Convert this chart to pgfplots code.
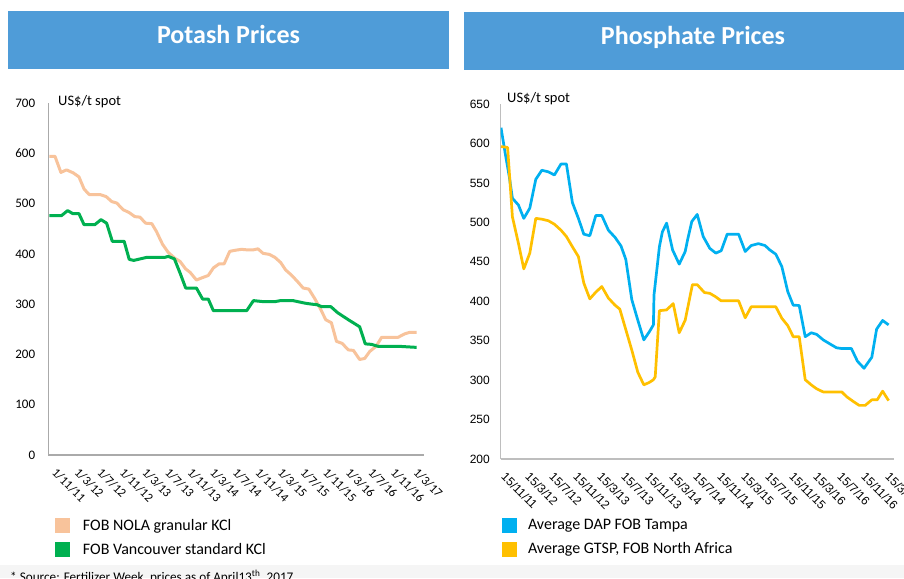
\documentclass[border=0pt]{standalone}
\usepackage{fontspec}
\setmainfont{Carlito}
\newfontfamily\arial{Liberation Sans}
\usepackage{pgfplots}
\pgfplotsset{compat=1.18}
\definecolor{banner}{RGB}{79,156,216}
\definecolor{nola}{RGB}{248,195,155}
\definecolor{vanc}{RGB}{0,176,80}
\definecolor{dap}{RGB}{0,176,240}
\definecolor{gtsp}{RGB}{255,192,0}
\definecolor{axgray}{RGB}{170,170,170}
\definecolor{axgrayb}{RGB}{190,190,190}
\begin{document}
\begin{tikzpicture}
\useasboundingbox (0pt,0pt) rectangle (904pt,578pt);
\fill[white] (0pt,0pt) rectangle (904pt,578pt);
\fill[black!4] (0pt,0pt) rectangle (904pt,13pt);
\node[anchor=base west, font=\fontsize{13.2}{13.2}\selectfont, inner sep=0pt] at (10pt,-3pt) {* Source: Fertilizer Week, prices as of April13\textsuperscript{th}, 2017};
\fill[banner] (8pt,509pt) rectangle (449pt,567pt);
\fill[banner] (464.3pt,508pt) rectangle (904pt,566pt);
\node[white, font=\fontsize{26}{26}\selectfont\bfseries, anchor=base, inner sep=0pt] at (228.5pt,534.7pt) {Potash Prices};
\node[white, font=\fontsize{26}{26}\selectfont\bfseries, anchor=base, inner sep=0pt] at (693pt,533.7pt) {Phosphate Prices};
\node[anchor=base west, font=\fontsize{14.5}{14.5}\selectfont, inner sep=0pt] at (58pt,472pt) {US\$/t spot};
\node[anchor=base west, font=\fontsize{14.5}{14.5}\selectfont, inner sep=0pt] at (507pt,475.4pt) {US\$/t spot};

\begin{axis}[at={(48.3pt,123pt)}, anchor=south west, scale only axis,
  width=375.7pt, height=352pt,
  xmin=-0.83, xmax=65.7, ymin=0, ymax=700,
  axis x line=bottom, axis y line=left,
  axis line style={axgray, line width=1.2pt, -},
  xtick={0,4,...,64},
  xticklabels={1/11/11,1/3/12,1/7/12,1/11/12,1/3/13,1/7/13,1/11/13,1/3/14,1/7/14,1/11/14,1/3/15,1/7/15,1/11/15,1/3/16,1/7/16,1/11/16,1/3/17},
  ytick={0,100,...,700},
  major tick length=0pt, tick style={draw=none},
  /pgf/number format/assume math mode=true,
  x tick label style={xshift=4.5pt, yshift=-12pt, rotate=-45, anchor=north west, inner sep=0pt, font=\fontsize{12.5}{12.5}\selectfont},
  y tick label style={anchor=east, inner sep=0pt, xshift=-13pt, font=\fontsize{13}{13}\selectfont},
  legend style={at={(0.0178,-0.179)}, anchor=north west, draw=none, fill=none, inner sep=0pt, outer sep=0pt,
    row sep=9pt, column sep=13pt,
    nodes={inner sep=0pt, text height=11.5pt, text depth=2.5pt, font=\fontsize{16}{16}\selectfont}},
  legend cell align=left,
  legend image code/.code={\path[#1, fill, draw=none] (0pt,-7.5pt) rectangle (15pt,7.5pt);},
]
\addplot[color=nola, line width=3pt, line join=round] coordinates {
(-0.65,594)(0.35,594)(1.4,562)(2.4,567)(3.6,561)(4.6,553)(5.5,529)(6.4,518)(8.3,518)(9.4,514)
(10.4,504)(11.3,501)(12.4,488)(13.5,482)(14.5,474)(15.4,473)(16.4,461)(17.5,460)(18.3,445)(19.4,419)
(20.4,403)(21.6,391)(22.5,385)(23.5,370)(24.3,363)(25.4,348)(26.3,352)(27.5,357)(28.4,372)(29.4,380)
(30.3,380)(31.3,405)(32.2,407)(33.4,409)(34.3,408)(35.5,408)(36.3,410)(37.2,401)(38.3,399)(39.3,393)
(40.3,383)(41.2,368)(42.2,358)(43.3,345)(44.3,332)(45.3,330)(46.3,312)(47.3,292)(48.3,269)(49.3,263)
(50.2,226)(51.2,222)(52.3,209)(53.2,208)(54.3,190)(55.2,192)(56.1,206)(57.2,216)(58.2,234)(59.1,234)
(61.1,234)(62.3,241)(63.2,244)(64.4,244)};
\addlegendentry{FOB NOLA granular KCl}
\addplot[color=vanc, line width=3pt, line join=round] coordinates {
(-0.65,476)(1.5,476)(2.6,486)(3.5,480)(4.6,480)(5.5,458)(7.4,458)(8.5,468)(9.5,461)(10.5,425)
(12.6,425)(13.5,389)(14.3,387)(16.6,393)(19.8,393)(20.4,395)(21.5,390)(22.5,362)(23.5,332)(25.4,332)
(26.5,310)(27.5,310)(28.4,287)(34.3,287)(35.5,307)(37.2,305)(39.3,305)(40.3,307)(42.5,307)(44.6,302)
(45.8,300)(46.7,299)(47.6,295)(49.2,295)(50.4,283)(52.3,269)(54.3,255)(55.3,221)(56.4,220)(57.6,216)
(61.4,216)(64.4,214)};
\addlegendentry{FOB Vancouver standard KCl}
\end{axis}

\begin{axis}[at={(500.7pt,119pt)}, anchor=south west, scale only axis,
  width=393.3pt, height=355pt,
  xmin=-0.05, xmax=65.5, ymin=200, ymax=650,
  axis x line=bottom, axis y line=left,
  axis line style={axgrayb, line width=1.2pt, -},
  xtick={0,4,...,64},
  xticklabels={15/11/11,15/3/12,15/7/12,15/11/12,15/3/13,15/7/13,15/11/13,15/3/14,15/7/14,15/11/14,15/3/15,15/7/15,15/11/15,15/3/16,15/7/16,15/11/16,15/3/17},
  ytick={200,250,...,650},
  major tick length=0pt, tick style={draw=none},
  /pgf/number format/assume math mode=true,
  x tick label style={xshift=5.7pt, yshift=-12.5pt, rotate=-45, anchor=north west, inner sep=0pt, font=\arial\fontsize{12}{12}\selectfont},
  y tick label style={anchor=east, inner sep=0pt, xshift=-10.7pt, font=\arial\fontsize{12}{12}\selectfont},
  legend style={at={(0.0033,-0.166)}, anchor=north west, draw=none, fill=none, inner sep=0pt, outer sep=0pt,
    row sep=9pt, column sep=11pt,
    nodes={inner sep=0pt, text height=11.5pt, text depth=2.5pt, font=\fontsize{16}{16}\selectfont}},
  legend cell align=left,
  legend image code/.code={\path[#1, fill, draw=none] (0pt,-7.5pt) rectangle (15pt,7.5pt);},
]
\addplot[color=dap, line width=2.7pt, line join=round] coordinates {
(0,620)(0.7,587.5)(1.4,557)(1.9,530.5)(2.9,522)(3.8,505)(4.8,518)(5.8,554.6)(6.8,566)(7.9,564)
(8.9,560)(10.0,574)(10.9,574)(11.9,525)(12.9,505)(13.8,485)(14.8,483)(15.8,508.6)(16.8,508.6)(17.9,490)
(19.0,481)(20.0,470)(20.8,453)(21.8,402)(22.8,376)(23.8,351)(24.7,361)(25.4,370)(25.5,408)(26.4,469)
(26.9,488)(27.6,499)(28.6,465)(29.7,447)(30.7,463)(31.1,478)(31.8,501)(32.7,510)(33.7,482)(34.8,467)
(35.8,461)(36.7,464)(37.7,485)(39.6,485)(40.7,463)(41.7,470.6)(42.9,473)(44,470.6)(44.8,465)(45.8,459.6)
(46.8,444)(47.8,412)(48.7,395)(49.7,394.6)(50.7,355)(51.7,360)(52.6,358)(53.7,351)(54.8,346)(55.9,341)
(56.8,340)(58.4,340)(59.4,324)(60.5,315)(61.8,329)(62.6,364.6)(63.6,375.6)(64.6,370)};
\addlegendentry{Average DAP FOB Tampa}
\addplot[color=gtsp, line width=2.7pt, line join=round] coordinates {
(0,596)(1.1,595)(1.9,507)(2.9,473.5)(3.8,441)(4.8,461)(5.8,505)(6.8,504)(7.9,502)(8.9,497.6)
(10.0,490)(10.9,482)(11.9,469)(12.9,456.6)(13.8,423)(14.8,403)(15.8,411.5)(16.8,418.6)(17.9,404)(19,395)
(19.8,390)(20.8,364)(21.8,338)(22.8,310)(23.8,294)(24.7,297)(25.4,300.5)(25.7,304)(26.4,388)(27.6,389)
(28.7,397)(29.7,360)(30.7,376)(31.1,391)(31.9,421)(32.7,421)(33.9,411)(34.8,410)(35.7,406)(36.7,400.5)
(39.6,400.5)(40.7,379)(41.7,393)(45.8,393)(46.8,378.5)(47.8,369)(48.7,355)(49.7,355)(50.7,300.5)(51.7,294)
(52.6,289)(53.7,285)(56.8,285)(57.6,279)(58.7,273)(59.7,268)(60.7,268)(61.8,275)(62.7,275)(63.6,286)
(64.6,274)};
\addlegendentry{Average GTSP, FOB North Africa}
\end{axis}
\end{tikzpicture}
\end{document}
